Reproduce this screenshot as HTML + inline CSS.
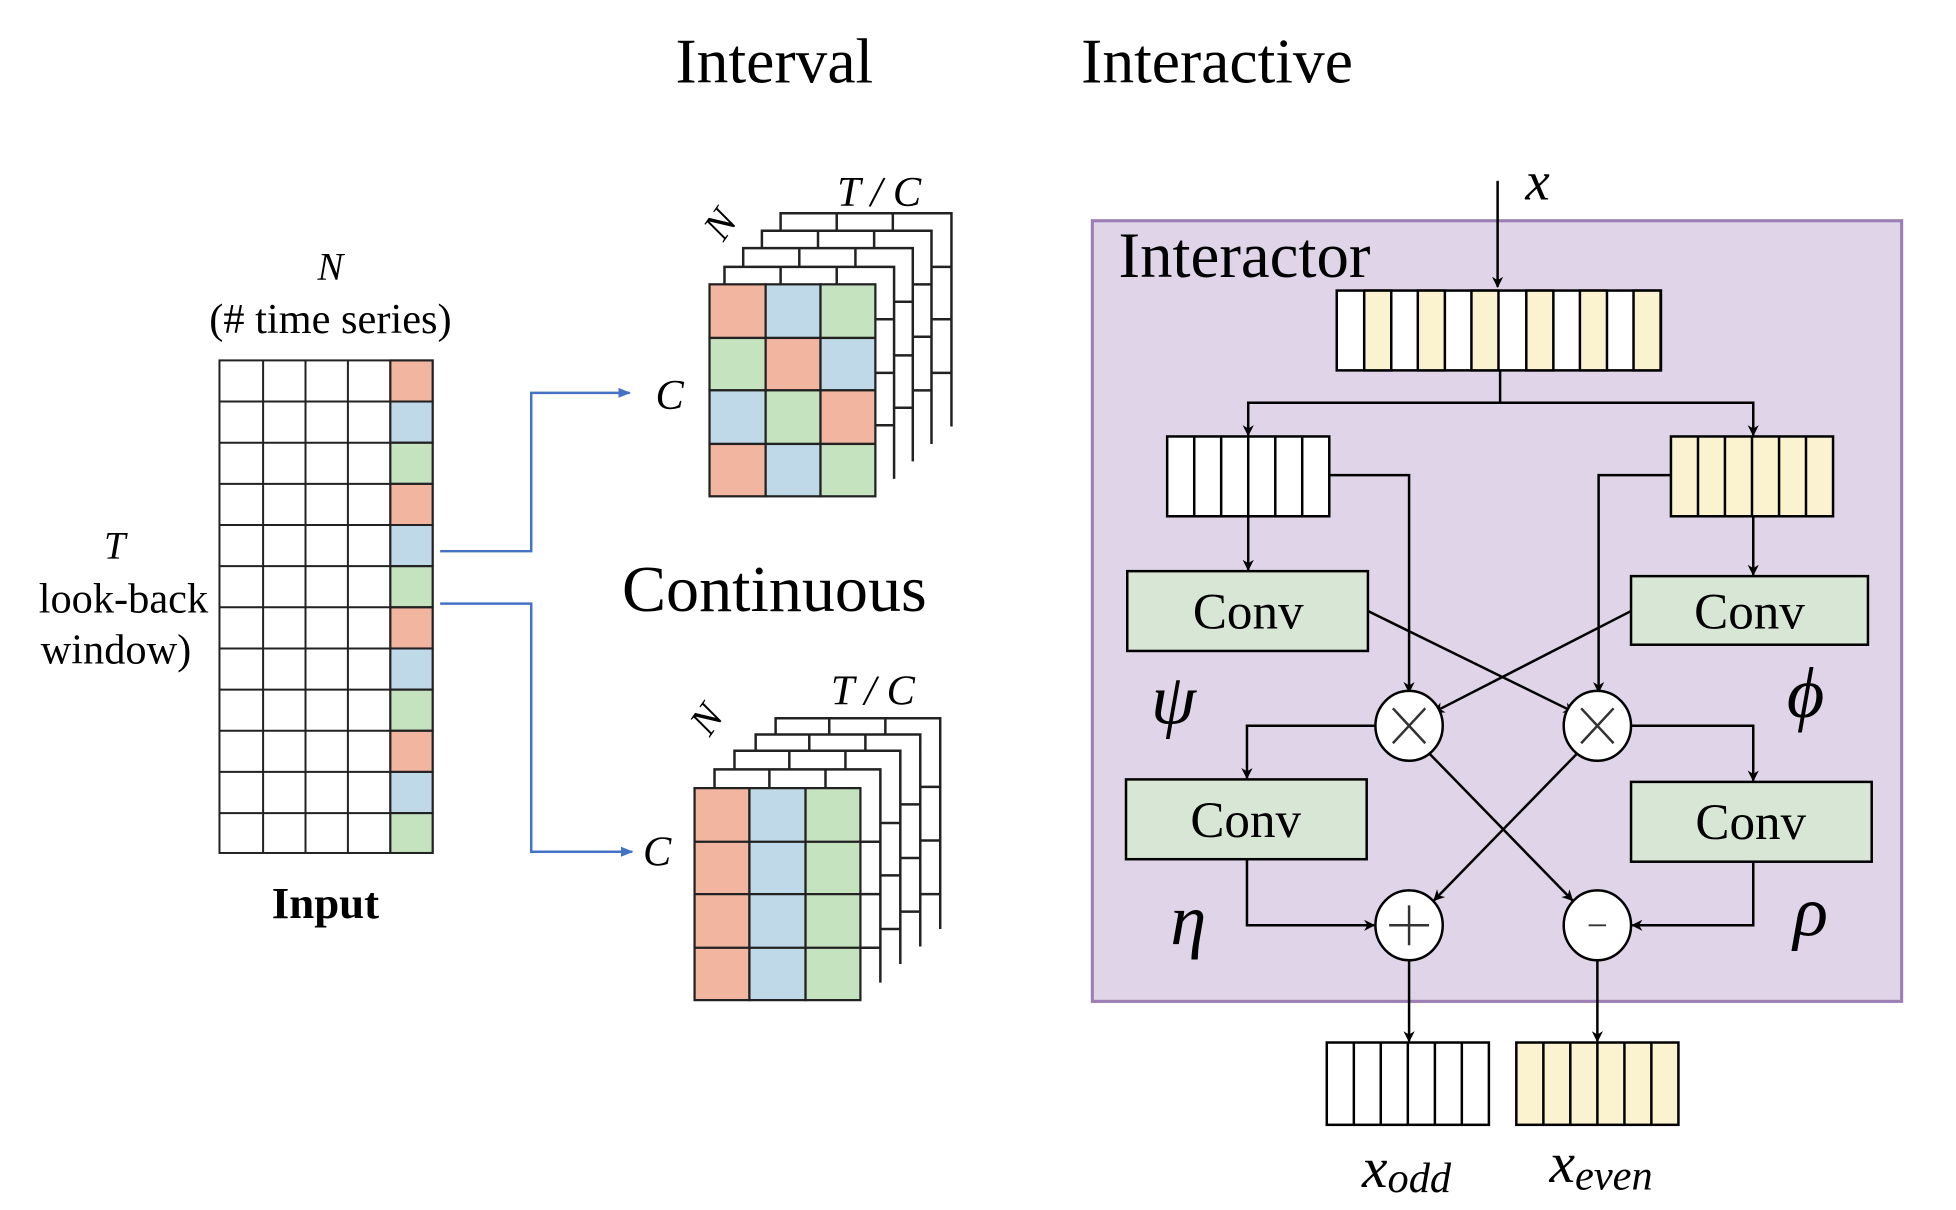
<!DOCTYPE html>
<html><head><meta charset="utf-8"><style>
html,body{margin:0;padding:0;background:#fff;}
svg{display:block;}
text{font-family:"Liberation Serif",serif;fill:#000;}
</style></head><body>
<svg width="1956" height="1210" viewBox="0 0 1568.6 970.3" preserveAspectRatio="none" xmlns="http://www.w3.org/2000/svg">
<defs>
<marker id="a" viewBox="0 0 10 10" refX="9" refY="5" markerWidth="9" markerHeight="9" orient="auto" markerUnits="userSpaceOnUse"><path d="M0,0 L10,5 L0,10 L3,5 z" fill="#000"/></marker>
<marker id="b" viewBox="0 0 10 10" refX="9" refY="5" markerWidth="10" markerHeight="10" orient="auto" markerUnits="userSpaceOnUse"><path d="M0,1 L10,5 L0,9 z" fill="#4472c4"/></marker>
</defs>
<text x="621" y="66" font-size="51" text-anchor="middle">Interval</text>
<text x="976" y="66" font-size="51" text-anchor="middle">Interactive</text>
<text x="621" y="490" font-size="53" text-anchor="middle">Continuous</text>

<g stroke="#222" stroke-width="1.6" fill="none">
<rect x="313" y="289" width="34" height="33" fill="#f2b5a0"/><rect x="313" y="322" width="34" height="33" fill="#c0d9e8"/><rect x="313" y="355" width="34" height="33" fill="#c6e3c0"/>
<rect x="313" y="388" width="34" height="33" fill="#f2b5a0"/><rect x="313" y="421" width="34" height="33" fill="#c0d9e8"/><rect x="313" y="454" width="34" height="33" fill="#c6e3c0"/>
<rect x="313" y="487" width="34" height="33" fill="#f2b5a0"/><rect x="313" y="520" width="34" height="33" fill="#c0d9e8"/><rect x="313" y="553" width="34" height="33" fill="#c6e3c0"/>
<rect x="313" y="586" width="34" height="33" fill="#f2b5a0"/><rect x="313" y="619" width="34" height="33" fill="#c0d9e8"/><rect x="313" y="652" width="34" height="32" fill="#c6e3c0"/>
<rect x="176" y="289" width="171" height="395"/>
<path d="M211,289V684M245,289V684M279,289V684M313,289V684"/>
<path d="M176,322H347M176,355H347M176,388H347M176,421H347M176,454H347M176,487H347M176,520H347M176,553H347M176,586H347M176,619H347M176,652H347"/>
</g>
<text x="265" y="224" font-size="31" font-style="italic" text-anchor="middle">N</text>
<text x="265" y="267" font-size="34" text-anchor="middle">(# time series)</text>
<text x="92" y="448" font-size="31" font-style="italic" text-anchor="middle">T</text>
<text x="99" y="491" font-size="34" text-anchor="middle">look-back</text>
<text x="93" y="532" font-size="34" text-anchor="middle">window)</text>
<text x="261" y="736" font-size="36" font-weight="bold" text-anchor="middle">Input</text>

<g stroke="#4472c4" stroke-width="2" fill="none">
<path d="M353,442H426V315H505" marker-end="url(#b)"/>
<path d="M353,484H426V683H507" marker-end="url(#b)"/>
</g>

<g stroke="#222" stroke-width="2" fill="none">
<path d="M581,228V214H717V384M626,214V228M671,214V228M702,256H717M702,299H717M702,341H717"/>
<path d="M596,214V199H732V370M641,199V214M686,199V214M717,242H732M717,285H732M717,327H732"/>
<path d="M611,199V185H747V356M656,185V199M701,185V199M732,228H747M732,270H747M732,313H747"/>
<path d="M626,185V171H763V342M671,171V185M716,171V185M747,214H763M747,256H763M747,299H763"/>
</g>
<g stroke="#222" stroke-width="1.8">
<rect x="569" y="228" width="45" height="43" fill="#f2b5a0"/><rect x="614" y="228" width="44" height="43" fill="#c0d9e8"/><rect x="658" y="228" width="44" height="43" fill="#c6e3c0"/>
<rect x="569" y="271" width="45" height="42" fill="#c6e3c0"/><rect x="614" y="271" width="44" height="42" fill="#f2b5a0"/><rect x="658" y="271" width="44" height="42" fill="#c0d9e8"/>
<rect x="569" y="313" width="45" height="43" fill="#c0d9e8"/><rect x="614" y="313" width="44" height="43" fill="#c6e3c0"/><rect x="658" y="313" width="44" height="43" fill="#f2b5a0"/>
<rect x="569" y="356" width="45" height="42" fill="#f2b5a0"/><rect x="614" y="356" width="44" height="42" fill="#c0d9e8"/><rect x="658" y="356" width="44" height="42" fill="#c6e3c0"/>
</g>
<text x="705" y="165" font-size="34" font-style="italic" text-anchor="middle">T / C</text>
<text x="537" y="328" font-size="34" font-style="italic" text-anchor="middle">C</text>
<text x="578" y="190" font-size="32" font-style="italic" text-anchor="middle" transform="rotate(-55 578 180)">N</text>

<g stroke="#222" stroke-width="2" fill="none">
<path d="M573,632V617H706V788M617,617V632M662,617V632M690,675H706M690,717H706M690,760H706"/>
<path d="M589,617V602H722V773M633,602V617M678,602V617M706,660H722M706,702H722M706,745H722"/>
<path d="M606,602V589H738V759M649,589V602M694,589V602M722,645H738M722,688H738M722,731H738"/>
<path d="M622,589V576H754V745M665,576V589M710,576V589M738,631H754M738,674H754M738,717H754"/>
</g>
<g stroke="#222" stroke-width="1.8">
<rect x="557" y="632" width="44" height="170" fill="#f2b5a0"/><rect x="601" y="632" width="45" height="170" fill="#c0d9e8"/><rect x="646" y="632" width="44" height="170" fill="#c6e3c0"/>
<path d="M557,675H690M557,717H690M557,760H690" fill="none"/>
</g>
<text x="700" y="565" font-size="34" font-style="italic" text-anchor="middle">T / C</text>
<text x="527" y="694" font-size="34" font-style="italic" text-anchor="middle">C</text>
<text x="567" y="587" font-size="32" font-style="italic" text-anchor="middle" transform="rotate(-55 567 577)">N</text>

<rect x="876" y="177" width="649" height="626" fill="#e0d5e8" stroke="#9b7fb5" stroke-width="2.5"/>
<text x="897" y="222" font-size="52">Interactor</text>
<text x="1233" y="160" font-size="44" font-style="italic" text-anchor="middle">x</text>
<g stroke="#000" stroke-width="2" fill="none">
<path d="M1201,145V230" marker-end="url(#a)"/>
</g>
<g stroke="#000" stroke-width="2">
<rect x="1072" y="233" width="260" height="64" fill="#fff"/>
<rect x="1094" y="233" width="21.7" height="64" fill="#fbf3d0"/><rect x="1137" y="233" width="21.7" height="64" fill="#fbf3d0"/>
<rect x="1180" y="233" width="21.7" height="64" fill="#fbf3d0"/><rect x="1224" y="233" width="21.7" height="64" fill="#fbf3d0"/>
<rect x="1267" y="233" width="21.7" height="64" fill="#fbf3d0"/><rect x="1310" y="233" width="21.7" height="64" fill="#fbf3d0"/>
<rect x="936" y="350" width="130" height="64" fill="#fff"/>
<path d="M957.7,350V414M979.3,350V414M1001,350V414M1022.7,350V414M1044.3,350V414"/>
<rect x="1340" y="350" width="130" height="64" fill="#fbf3d0"/>
<path d="M1361.7,350V414M1383.3,350V414M1405,350V414M1426.7,350V414M1448.3,350V414"/>
<rect x="1064" y="836" width="130" height="66" fill="#fff"/>
<path d="M1085.7,836V902M1107.3,836V902M1129,836V902M1150.7,836V902M1172.3,836V902"/>
<rect x="1216" y="836" width="130" height="66" fill="#fbf3d0"/>
<path d="M1237.7,836V902M1259.3,836V902M1281,836V902M1302.7,836V902M1324.3,836V902"/>
<rect x="904" y="458" width="193" height="64" fill="#d8e6d6"/>
<rect x="1308" y="462" width="190" height="55" fill="#d8e6d6"/>
<rect x="903" y="625" width="193" height="64" fill="#d8e6d6"/>
<rect x="1308" y="627" width="193" height="64" fill="#d8e6d6"/>
</g>
<g font-size="41" text-anchor="middle">
<text x="1001" y="504">Conv</text><text x="1403" y="504">Conv</text>
<text x="999" y="671">Conv</text><text x="1404" y="673">Conv</text>
</g>
<g stroke="#000" stroke-width="2" fill="none">
<path d="M1203,297V323H1001V349" marker-end="url(#a)"/>
<path d="M1203,323H1406V349" marker-end="url(#a)"/>
<path d="M1001,414V457" marker-end="url(#a)"/>
<path d="M1406,414V461" marker-end="url(#a)"/>
<path d="M1066,381H1130V555" marker-end="url(#a)"/>
<path d="M1340,381H1282V555" marker-end="url(#a)"/>
<path d="M1097,490L1262,571" marker-end="url(#a)"/>
<path d="M1308,490L1150,571" marker-end="url(#a)"/>
<path d="M1103,582H1000V624" marker-end="url(#a)"/>
<path d="M1308,582H1406V626" marker-end="url(#a)"/>
<path d="M1146,604L1261,722" marker-end="url(#a)"/>
<path d="M1265,604L1150,722" marker-end="url(#a)"/>
<path d="M1000,689V742H1102" marker-end="url(#a)"/>
<path d="M1406,691V742H1309" marker-end="url(#a)"/>
<path d="M1130,769V835" marker-end="url(#a)"/>
<path d="M1281,769V835" marker-end="url(#a)"/>
</g>
<g stroke="#000" stroke-width="2" fill="#fff">
<ellipse cx="1130" cy="582" rx="27" ry="28"/><ellipse cx="1281" cy="582" rx="27" ry="28"/>
<ellipse cx="1130" cy="742" rx="27" ry="28"/><ellipse cx="1281" cy="742" rx="27" ry="28"/>
</g>
<g stroke="#333" stroke-width="2">
<path d="M1117,568L1143,596M1143,568L1117,596"/>
<path d="M1268,568L1294,596M1294,568L1268,596"/>
<path d="M1130,726V758M1114,742H1146"/>
<path d="M1274,742H1288" stroke-width="1.5"/>
</g>
<g font-size="58" font-style="italic" fill="#333" text-anchor="middle">
<text x="941" y="580">ψ</text><text x="1448" y="575">ϕ</text>
<text x="953" y="757">η</text><text x="1452" y="750">ρ</text>
</g>
<text x="1128" y="952" font-size="46" font-style="italic" text-anchor="middle">x<tspan font-size="34" dy="4">odd</tspan></text>
<text x="1284" y="948" font-size="46" font-style="italic" text-anchor="middle">x<tspan font-size="34" dy="6">even</tspan></text>
</svg>
</body></html>
